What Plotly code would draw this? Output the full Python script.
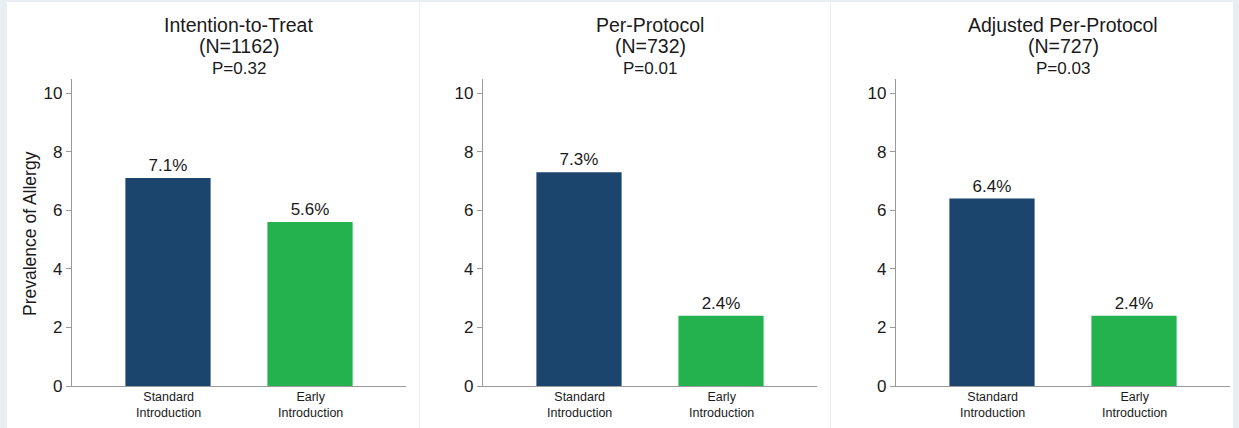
import plotly.graph_objects as go
from plotly.subplots import make_subplots

# Allergy prevalence by analysis population
panel_titles = ["Intention-to-Treat", "Per-Protocol", "Adjusted Per-Protocol"]
panel_n = [1162, 732, 727]
panel_p = ["0.32", "0.01", "0.03"]
groups = ["Standard Introduction", "Early Introduction"]
group_labels = ["Standard<br>Introduction", "Early<br>Introduction"]
standard_pct = [7.1, 7.3, 6.4]
early_pct = [5.6, 2.4, 2.4]
y_ticks = [0, 2, 4, 6, 8, 10]

W, H = 1239, 428
NAVY = "#1c456e"
GREEN = "#24b24f"
INK = "#1a1a1a"
AXIS = "#9a9a9a"
FONT = "Liberation Sans, Arial, sans-serif"


def px_x(p):
    return p / W


def px_y(p):
    return 1 - p / H


fig = make_subplots(rows=1, cols=3)

# plot-area geometry in pixels: (left, right) per panel, shared top/bottom
x_spans = [(72, 406), (483, 817), (896, 1230)]
y_top, y_bot = 79, 386
# white card behind each panel
cards = [(7, 419), (420, 830), (831, 1233)]

for i in range(3):
    vals = [standard_pct[i], early_pct[i]]
    fig.add_trace(
        go.Bar(
            x=groups,
            y=vals,
            marker=dict(color=[NAVY, GREEN], line=dict(width=0)),
            width=0.6,
            text=[f"{v}%" for v in vals],
            textposition="outside",
            textfont=dict(size=17, color=INK, family=FONT),
            cliponaxis=False,
            hoverinfo="skip",
            showlegend=False,
        ),
        row=1, col=i + 1,
    )
    xa = "xaxis" if i == 0 else f"xaxis{i + 1}"
    ya = "yaxis" if i == 0 else f"yaxis{i + 1}"
    l, r = x_spans[i]
    fig.layout[xa].update(
        domain=[px_x(l), px_x(r)],
        range=[-0.676, 1.676],
        showline=True, linecolor=AXIS, linewidth=1.3,
        ticks="", showticklabels=False, showgrid=False, zeroline=False,
        automargin=False, fixedrange=True,
    )
    fig.layout[ya].update(
        domain=[px_y(y_bot), px_y(y_top)],
        range=[0, 10.48],
        tickvals=y_ticks,
        showline=True, linecolor=AXIS, linewidth=1.3,
        ticks="outside", ticklen=5, tickcolor=AXIS, tickwidth=1,
        tickfont=dict(size=17, color=INK, family=FONT),
        showgrid=False, zeroline=False, automargin=False,
    )

    xref = "x" if i == 0 else f"x{i + 1}"
    cx = px_x((l + r) / 2)
    # three-line panel heading
    fig.add_annotation(text=panel_titles[i], xref="paper", yref="paper",
                       x=cx, y=px_y(25), xanchor="center", yanchor="middle",
                       showarrow=False, font=dict(size=19.5, color=INK, family=FONT))
    fig.add_annotation(text=f"(N={panel_n[i]})", xref="paper", yref="paper",
                       x=cx, y=px_y(46), xanchor="center", yanchor="middle",
                       showarrow=False, font=dict(size=19.5, color=INK, family=FONT))
    fig.add_annotation(text=f"P={panel_p[i]}", xref="paper", yref="paper",
                       x=cx, y=px_y(68), xanchor="center", yanchor="middle",
                       showarrow=False, font=dict(size=17, color=INK, family=FONT))
    # category labels under each bar
    for g, lab in zip(groups, group_labels):
        fig.add_annotation(text=lab, xref=xref, yref="paper",
                           x=g, y=px_y(405),
                           xanchor="center", yanchor="middle",
                           showarrow=False,
                           font=dict(size=12.5, color=INK, family=FONT))

# shared y-axis title on the first panel
fig.add_annotation(text="Prevalence of Allergy", xref="paper", yref="paper",
                   x=px_x(30), y=px_y(234), xanchor="center", yanchor="middle",
                   textangle=-90, showarrow=False,
                   font=dict(size=17.5, color=INK, family=FONT))

for a, b in cards:
    fig.add_shape(type="rect", xref="paper", yref="paper",
                  x0=px_x(a), x1=px_x(b), y0=0, y1=px_y(2),
                  fillcolor="white", line=dict(width=0), layer="below")

fig.update_layout(
    width=W, height=H,
    margin=dict(l=0, r=0, t=0, b=0, autoexpand=False),
    paper_bgcolor="#e8eef2",
    plot_bgcolor="rgba(0,0,0,0)",
    bargap=0.4,
    font=dict(family=FONT, color=INK),
)

fig.write_html("out.html", config={"displayModeBar": False})
